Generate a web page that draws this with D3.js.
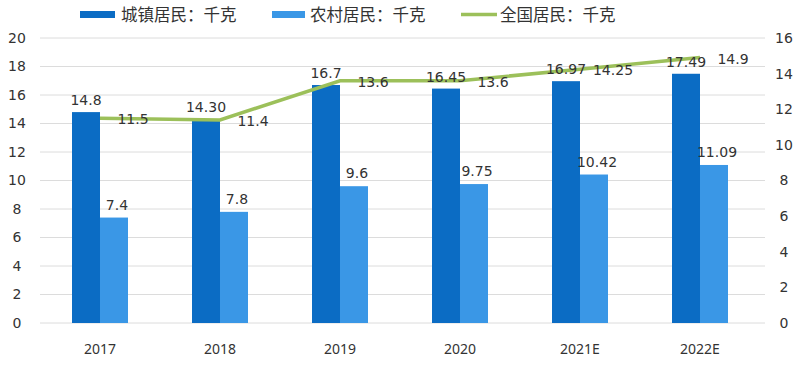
<!DOCTYPE html>
<html>
<head>
<meta charset="utf-8">
<script src="https://cdn.jsdelivr.net/npm/d3@7"></script>
<style>
  body { margin: 0; background: #fff; }
  svg text { font-family: "DejaVu Sans", sans-serif; fill: #333; }
  svg text.cjk { font-family: "Noto Sans CJK SC", sans-serif; }
  svg text.year { font-family: "Noto Sans", sans-serif; }
</style>
</head>
<body>
<svg id="chart"></svg>
<script>
// data
const years = ["2017", "2018", "2019", "2020", "2021E", "2022E"];
const urban = [14.8, 14.30, 16.7, 16.45, 16.97, 17.49];
const urbanLabels = ["14.8", "14.30", "16.7", "16.45", "16.97", "17.49"];
const rural = [7.4, 7.8, 9.6, 9.75, 10.42, 11.09];
const ruralLabels = ["7.4", "7.8", "9.6", "9.75", "10.42", "11.09"];
const national = [11.5, 11.4, 13.6, 13.6, 14.25, 14.9];
const nationalLabels = ["11.5", "11.4", "13.6", "13.6", "14.25", "14.9"];
const leftTicks = [0, 2, 4, 6, 8, 10, 12, 14, 16, 18, 20];
const rightTicks = [0, 2, 4, 6, 8, 10, 12, 14, 16];

const width = 800, height = 373;
const colUrban = "#0b6cc4", colRural = "#3a97e6", colLine = "#9cc05a";

let svg = d3.select("#chart")
    .attr("width", width)
    .attr("height", height);

let x = d3.scaleBand()
    .domain(years)
    .range([40, 760]);

let yL = d3.scaleLinear().domain([0, 20]).range([323, 38]);
let yR = d3.scaleLinear().domain([0, 16]).range([323, 38]);

const barW = 28;

// gridlines
svg.append("g")
    .selectAll("line")
    .data(leftTicks)
    .enter()
    .append("line")
    .attr("x1", 40)
    .attr("x2", 765)
    .attr("y1", d => yL(d))
    .attr("y2", d => yL(d))
    .attr("stroke", "#dcdcdc")
    .attr("stroke-width", 1);

// left axis
let axisL = svg.append("g")
    .attr("transform", "translate(32,0)")
    .call(d3.axisLeft(yL).tickValues(leftTicks).tickSize(0).tickPadding(0));
axisL.select(".domain").remove();
axisL.selectAll("text").style("font-size", "14px").attr("text-anchor", "middle").attr("x", -15);

// right axis
let axisR = svg.append("g")
    .attr("transform", "translate(776,0)")
    .call(d3.axisRight(yR).tickValues(rightTicks).tickSize(0).tickPadding(0));
axisR.select(".domain").remove();
axisR.selectAll("text").style("font-size", "14px").attr("text-anchor", "middle").attr("x", 8);

// x labels
svg.append("g")
    .selectAll("text")
    .data(years)
    .enter()
    .append("text")
    .attr("class", "year")
    .attr("x", d => x(d) + x.bandwidth() / 2)
    .attr("y", 354)
    .attr("text-anchor", "middle")
    .style("font-size", "14px")
    .text(d => d);

const cx = i => x(years[i]) + x.bandwidth() / 2;

// bars
svg.append("g")
    .selectAll("rect")
    .data(urban)
    .enter()
    .append("rect")
    .attr("x", (d, i) => cx(i) - barW)
    .attr("y", d => yL(d))
    .attr("width", barW)
    .attr("height", d => yL(0) - yL(d))
    .attr("fill", colUrban);

svg.append("g")
    .selectAll("rect")
    .data(rural)
    .enter()
    .append("rect")
    .attr("x", (d, i) => cx(i))
    .attr("y", d => yL(d))
    .attr("width", barW)
    .attr("height", d => yL(0) - yL(d))
    .attr("fill", colRural);

// national line
let line = d3.line()
    .x((d, i) => cx(i))
    .y(d => yR(d));

svg.append("path")
    .datum(national)
    .attr("d", line)
    .attr("fill", "none")
    .attr("stroke", colLine)
    .attr("stroke-width", 3.5);

// value labels
svg.append("g")
    .selectAll("text")
    .data(urban)
    .enter()
    .append("text")
    .attr("x", (d, i) => cx(i) - barW / 2)
    .attr("y", d => yL(d) - 7)
    .attr("text-anchor", "middle")
    .style("font-size", "14px")
    .text((d, i) => urbanLabels[i]);

svg.append("g")
    .selectAll("text")
    .data(rural)
    .enter()
    .append("text")
    .attr("x", (d, i) => cx(i) + barW / 2 + 3)
    .attr("y", d => yL(d) - 8)
    .attr("text-anchor", "middle")
    .style("font-size", "14px")
    .text((d, i) => ruralLabels[i]);

svg.append("g")
    .selectAll("text")
    .data(national)
    .enter()
    .append("text")
    .attr("x", (d, i) => cx(i) + 33)
    .attr("y", d => yR(d) + 6)
    .attr("text-anchor", "middle")
    .style("font-size", "14px")
    .text((d, i) => nationalLabels[i]);

// legend
let legend = svg.append("g");
legend.append("rect").attr("x", 80).attr("y", 11).attr("width", 35).attr("height", 7).attr("fill", colUrban);
legend.append("text").attr("class", "cjk").attr("x", 121).attr("y", 21).style("font-size", "16.5px").text("城镇居民：千克");
legend.append("rect").attr("x", 272).attr("y", 11).attr("width", 33).attr("height", 7).attr("fill", colRural);
legend.append("text").attr("class", "cjk").attr("x", 310).attr("y", 21).style("font-size", "16.5px").text("农村居民：千克");
legend.append("line").attr("x1", 461).attr("x2", 497).attr("y1", 14.5).attr("y2", 14.5).attr("stroke", colLine).attr("stroke-width", 3.5);
legend.append("text").attr("class", "cjk").attr("x", 500).attr("y", 21).style("font-size", "16.5px").text("全国居民：千克");
</script>
</body>
</html>
